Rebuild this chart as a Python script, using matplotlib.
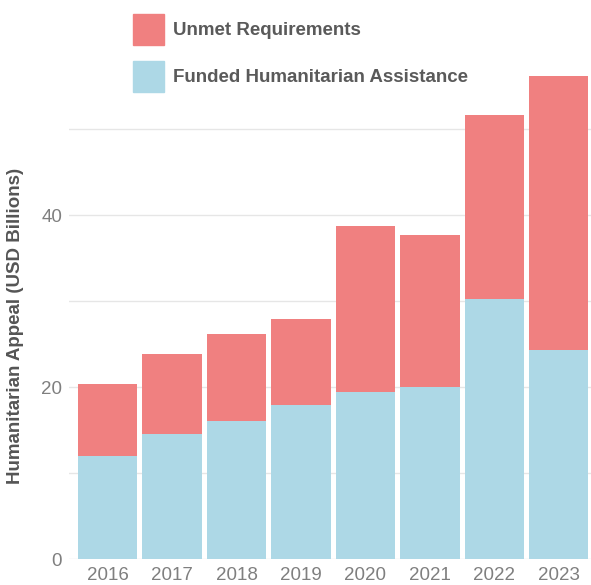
import matplotlib
matplotlib.use("Agg")
import matplotlib.pyplot as plt
from matplotlib.patches import Rectangle
import numpy as np

years = ["2016", "2017", "2018", "2019", "2020", "2021", "2022", "2023"]
funded = [12.0, 14.5, 16.0, 17.9, 19.4, 20.0, 30.3, 24.3]
total = [20.3, 23.8, 26.2, 27.9, 38.7, 37.7, 51.6, 56.2]
unmet = [t - f for t, f in zip(total, funded)]
yticks = [0, 20, 40]
gridlines = [0, 10, 20, 30, 40, 50]

plt.rcParams['font.family'] = ['Liberation Sans', 'DejaVu Sans']

W, H = 591, 585
fig = plt.figure(figsize=(W / 100, H / 100), dpi=100)
ax = fig.add_axes([69 / W, (H - 559) / H, (591 - 69) / W, (559 - 69) / H])

red = "#F08080"
blue = "#ADD8E6"
x = np.arange(len(years))
ax.bar(x, funded, width=0.92, color=blue, zorder=2)
ax.bar(x, unmet, bottom=funded, width=0.92, color=red, zorder=2)

ax.set_xlim(-0.6, 7.5)
ax.set_ylim(0, 57)
for g in gridlines:
    ax.axhline(g, color="#e6e6e6", lw=1, zorder=1)
ax.set_yticks(yticks)
ax.set_yticklabels([str(v) for v in yticks])
ax.set_xticks(x)
ax.set_xticklabels(years)
ax.tick_params(axis="both", length=0, labelsize=13.5, colors="#7f7f7f")
ax.tick_params(axis="y", pad=5)
ax.tick_params(axis="x", pad=6)
for s in ax.spines.values():
    s.set_visible(False)

ax.set_ylabel("Humanitarian Appeal (USD Billions)", fontsize=13.5, fontweight="bold", color="#555555")
ax.yaxis.set_label_coords(-(69 - 24) / (591 - 69), (559 - 326) / (559 - 69))

# legend
def legend_item(y_top, y_text, color, label):
    fig.add_artist(Rectangle((133 / W, 1 - (y_top + 31) / H), 31 / W, 31 / H,
                             transform=fig.transFigure, color=color))
    fig.text(173 / W, 1 - y_text / H, label, fontsize=13.5, fontweight="bold",
             color="#5a5a5a", va="center", ha="left")

legend_item(14, 30.5, red, "Unmet Requirements")
legend_item(61, 77, blue, "Funded Humanitarian Assistance")

fig.savefig("out.png", dpi=100)
